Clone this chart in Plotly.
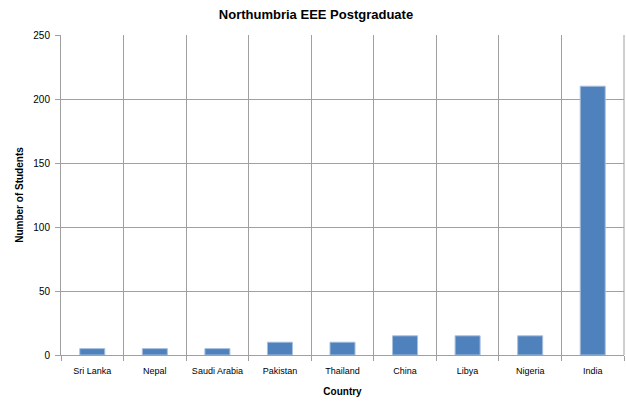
import plotly.graph_objects as go

countries = ["Sri Lanka", "Nepal", "Saudi Arabia", "Pakistan", "Thailand", "China", "Libya", "Nigeria", "India"]
students = [5, 5, 5, 10, 10, 15, 15, 15, 210]

fig = go.Figure()
fig.add_trace(go.Bar(
    x=countries, y=students,
    marker=dict(color="#4F81BD", line=dict(color="#A7C0DE", width=1)),
    width=0.4,
))

font = "Liberation Sans, Arial, sans-serif"
fig.update_layout(
    width=626, height=402,
    margin=dict(l=61, r=2, t=35, b=47, autoexpand=False),
    paper_bgcolor="white", plot_bgcolor="white",
    showlegend=False,
    title=dict(text="<b>Northumbria EEE Postgraduate</b>", x=316 / 626, xanchor="center",
               xref="container",
               y=1 - 14 / 402, yanchor="middle",
               font=dict(family=font, size=13, color="black")),
    xaxis=dict(
        type="category", tickson="boundaries", automargin=False,
        showgrid=True, gridcolor="#A0A0A0", gridwidth=1,
        showline=True, linecolor="#A0A0A0",
        ticks="outside", ticklen=5, tickcolor="#A0A0A0",
        ticklabelstandoff=7,
        tickfont=dict(family=font, size=9, color="black"),
        title=dict(text="<b>Country</b>", font=dict(family=font, size=10, color="black"), standoff=13),
    ),
    yaxis=dict(
        range=[0, 250], dtick=50, automargin=False,
        showgrid=True, gridcolor="#A0A0A0", gridwidth=1,
        showline=True, linecolor="#A0A0A0",
        ticks="outside", ticklen=5, tickcolor="#A0A0A0",
        ticklabelstandoff=3,
        tickfont=dict(family=font, size=10, color="black"),
        title=dict(text="<b>Number of Students</b>", font=dict(family=font, size=10, color="black"), standoff=7),
        zeroline=False,
    ),
    shapes=[dict(type="line", xref="paper", yref="paper", x0=1, x1=1, y0=0, y1=1,
                 line=dict(color="#A0A0A0", width=1))],
)

fig.write_html("out.html", config={"displayModeBar": False},
               post_script="document.body.style.margin='0';document.body.style.overflow='hidden';")
